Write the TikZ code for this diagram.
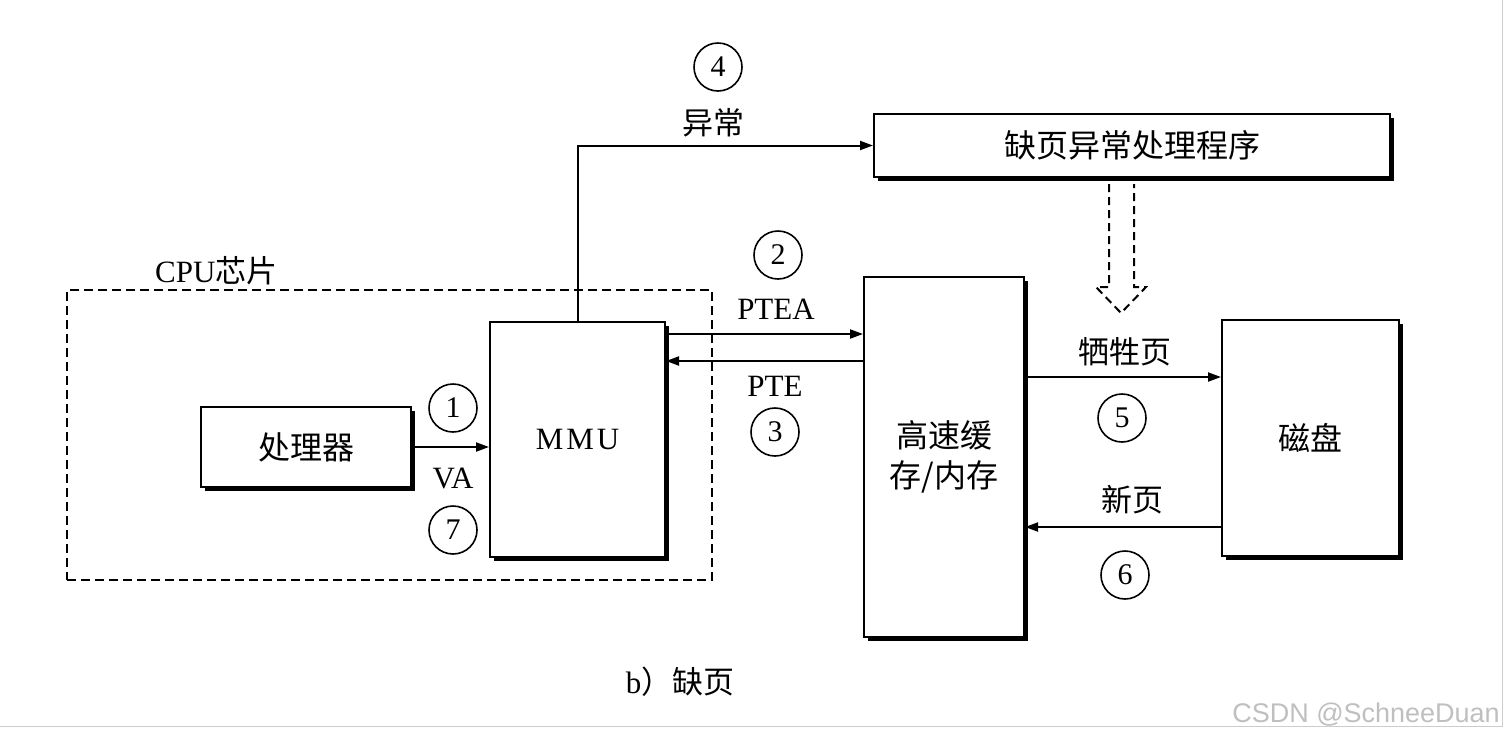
\documentclass[tikz,border=0pt]{standalone}
\usepackage{fontspec}
\setmainfont{Liberation Serif}
\newfontfamily\cjk{Noto Sans CJK SC}
\newfontfamily\wmfont{Liberation Sans}
\usetikzlibrary{arrows.meta,positioning,shadows,calc}

\begin{document}
\begin{tikzpicture}[
    x=1pt, y=-1pt,
    box/.style={rectangle, draw, fill=white, line width=2pt, align=center, inner sep=0pt,
        font=\cjk\fontsize{32}{40}\selectfont,
        drop shadow={shadow xshift=4pt, shadow yshift=-4pt, opacity=1, fill=black}},
    chip/.style={rectangle, draw, line width=1.8pt, dash pattern=on 9pt off 5pt, inner sep=0pt},
    num/.style={circle, draw, line width=1.6pt, minimum size=48pt, inner sep=0pt,
        font=\fontsize{30}{32}\selectfont},
    lbl/.style={inner sep=0pt, font=\fontsize{31}{36}\selectfont},
    zh/.style={inner sep=0pt, font=\cjk\fontsize{31}{36}\selectfont},
    arrow/.style={-{Triangle[length=13pt, width=9pt]}, line width=2pt},
    hollow/.style={line width=2pt, dash pattern=on 8pt off 5pt, line join=miter}
]
    \useasboundingbox (0,0) rectangle (1506,740);
    % frame of the screenshot
    \draw[black!20, line width=1pt] (0,726) -- (1502,726) -- (1502,0);

    % CPU chip
    \node[chip, minimum width=645pt, minimum height=290pt] (cpu) at (389.5,435) {};
    \node[lbl, anchor=base west] (cpulbl) at (155,282) {CPU{\cjk 芯片}};

    \node[box, minimum width=210pt, minimum height=80pt] (proc) at (306,447) {处理器};
    \node[box, minimum width=175pt, minimum height=235pt, font=\fontsize{31}{36}\selectfont] (mmu) at (577.5,439.5) {M\kern3pt M\kern3pt U};
    \node[box, minimum width=516pt, minimum height=63pt] (handler) at (1132,145.5) {缺页异常处理程序};
    \node[box, minimum width=160pt, minimum height=360pt] (cache) at (944,457) {高速缓\\存/内存};
    \node[box, minimum width=177pt, minimum height=236pt] (disk) at (1310.5,438) {磁盘};

    % VA
    \draw[arrow] (proc.east) -- (proc.east -| mmu.west);
    \node[num] (n1) at (453,408) {1};
    \node[lbl] (va) at (453,478) {VA};
    \node[num] (n7) at (453,530) {7};

    % exception
    \draw[arrow] (mmu.north) |- (handler.west);
    \node[num] (n4) at (718,67) {4};
    \node[zh] (exc) at (713,123) {异常};

    % PTEA / PTE
    \coordinate (ptea) at ($(mmu.north east)+(0,13)$);
    \coordinate (pte) at ($(mmu.north east)+(0,40)$);
    \draw[arrow] (ptea) -- (ptea -| cache.west);
    \draw[arrow] (pte -| cache.west) -- (pte);
    \node[num] (n2) at (778,255) {2};
    \node[lbl] (pteal) at (776,309) {PTEA};
    \node[lbl] (ptel) at (775,386) {PTE};
    \node[num] (n3) at (775,432) {3};

    % victim / new page
    \coordinate (vic) at ($(disk.north west)+(0,58)$);
    \coordinate (newp) at ($(disk.north west)+(0,208)$);
    \draw[arrow] (vic -| cache.east) -- (vic);
    \draw[arrow] (newp) -- (newp -| cache.east);
    \node[zh] (victim) at (1125,352) {牺牲页};
    \node[num] (n5) at (1122,418) {5};
    \node[zh] (newpage) at (1132,500) {新页};
    \node[num] (n6) at (1125,575) {6};

    % handler pages in
    \draw[hollow] ($(handler.south)+(-23,6)$) -- ++(0,103) -- ++(-13,0) -- ++(25,26)
        -- ++(25,-26) -- ++(-12,0) -- ++(0,-103);

    \node[lbl, anchor=base] (caption) at (680,693) {b{\cjk ）缺页}};
    \node[inner sep=0pt, anchor=base east, text=black!25, font=\wmfont\fontsize{27}{30}\selectfont] (wm) at (1500,722) {CSDN @SchneeDuan};
\end{tikzpicture}
\end{document}
